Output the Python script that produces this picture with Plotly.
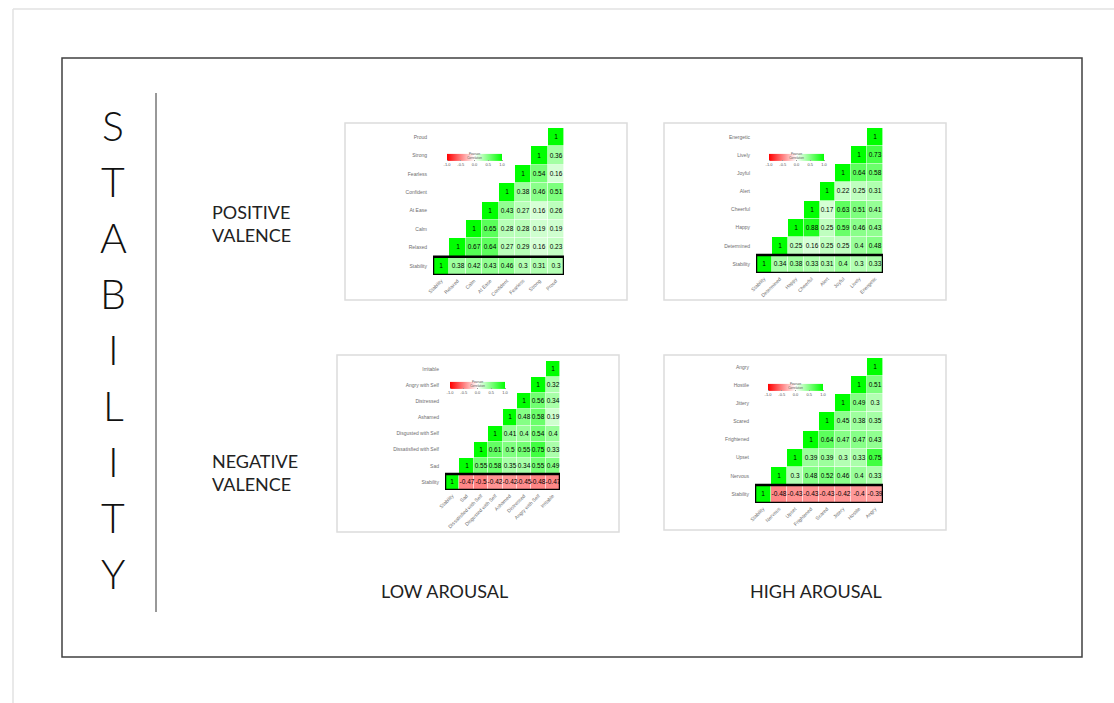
import plotly.graph_objects as go

# ---------------- data ----------------
labels_pos_low = ["Stability", "Relaxed", "Calm", "At Ease", "Confident", "Fearless", "Strong", "Proud"]
rows_pos_low = [
    [1, 0.38, 0.42, 0.43, 0.46, 0.3, 0.31, 0.3],
    [1, 0.67, 0.64, 0.27, 0.29, 0.16, 0.23],
    [1, 0.65, 0.28, 0.28, 0.19, 0.19],
    [1, 0.43, 0.27, 0.16, 0.26],
    [1, 0.38, 0.46, 0.51],
    [1, 0.54, 0.16],
    [1, 0.36],
    [1],
]

labels_pos_high = ["Stability", "Determined", "Happy", "Cheerful", "Alert", "Joyful", "Lively", "Energetic"]
rows_pos_high = [
    [1, 0.34, 0.38, 0.33, 0.31, 0.4, 0.3, 0.33],
    [1, 0.25, 0.16, 0.25, 0.25, 0.4, 0.48],
    [1, 0.88, 0.25, 0.59, 0.46, 0.43],
    [1, 0.17, 0.63, 0.51, 0.41],
    [1, 0.22, 0.25, 0.31],
    [1, 0.64, 0.58],
    [1, 0.73],
    [1],
]

labels_neg_low = ["Stability", "Sad", "Dissatisfied with Self", "Disgusted with Self", "Ashamed",
                  "Distressed", "Angry with Self", "Irritable"]
rows_neg_low = [
    [1, -0.47, -0.5, -0.42, -0.42, -0.45, -0.48, -0.47],
    [1, 0.55, 0.58, 0.35, 0.34, 0.55, 0.49],
    [1, 0.61, 0.5, 0.55, 0.75, 0.33],
    [1, 0.41, 0.4, 0.54, 0.4],
    [1, 0.48, 0.58, 0.19],
    [1, 0.56, 0.34],
    [1, 0.32],
    [1],
]

labels_neg_high = ["Stability", "Nervous", "Upset", "Frightened", "Scared", "Jittery", "Hostile", "Angry"]
rows_neg_high = [
    [1, -0.48, -0.43, -0.43, -0.43, -0.42, -0.4, -0.39],
    [1, 0.3, 0.48, 0.52, 0.46, 0.4, 0.33],
    [1, 0.39, 0.39, 0.3, 0.33, 0.75],
    [1, 0.64, 0.47, 0.47, 0.43],
    [1, 0.45, 0.38, 0.35],
    [1, 0.49, 0.3],
    [1, 0.51],
    [1],
]

colorbar_ticks = [-1.0, -0.5, 0.0, 0.5, 1.0]
colorbar_ticktext = ["-1.0", "-0.5", "0.0", "0.5", "1.0"]
stability_letters = "STABILITY"
valence_labels = ["POSITIVE<br>VALENCE", "NEGATIVE<br>VALENCE"]
arousal_labels = ["LOW AROUSAL", "HIGH AROUSAL"]

# ---------------- layout helpers ----------------
W, H = 1114, 703


def px(x):
    return x / W


def py(y):
    return 1 - y / H


panels = [
    # labels, rows, grid box (x0,x1,y0,y1 px), outer box, colorbar (left, top)
    (labels_pos_low, rows_pos_low, (433, 564, 128, 275), (345, 627, 123, 300), (447, 146)),
    (labels_pos_high, rows_pos_high, (756, 883, 128, 273), (664, 946, 123, 300), (769, 146)),
    (labels_neg_low, rows_neg_low, (445, 560, 361, 490), (337, 619, 355, 532), (450, 374)),
    (labels_neg_high, rows_neg_high, (755, 883, 358, 503), (664, 946, 355, 530), (768, 376)),
]

colorscale = [[0, "#FF0000"], [0.5, "#FFFFFF"], [1, "#00FF00"]]
tick_font = dict(family="Liberation Sans, Arial, sans-serif", size=5, color="#6e6e6e")

fig = go.Figure()
shapes = []
annotations = []

for k, (labels, rows, grid, box, cb) in enumerate(panels, start=1):
    n = len(labels)
    z = [[None] * n for _ in range(n)]
    txt = [[""] * n for _ in range(n)]
    for r, row in enumerate(rows):
        for j, v in enumerate(row):
            c = r + j
            z[r][c] = v
            txt[r][c] = f"{v:g}"
    sfx = "" if k == 1 else str(k)
    fig.add_trace(go.Heatmap(
        z=z, x=list(range(n)), y=list(range(n)),
        text=txt, texttemplate="%{text}",
        textfont=dict(family="Liberation Sans, Arial, sans-serif", size=6.5, color="#000000"),
        colorscale=colorscale, zmin=-1, zmax=1, xgap=0.6, ygap=0.6,
        xaxis="x" + sfx, yaxis="y" + sfx, hoverongaps=False,
        colorbar=dict(
            orientation="h", x=px(cb[0]), xanchor="left", y=py(cb[1]), yanchor="top",
            len=55, lenmode="pixels", thickness=7, thicknessmode="pixels",
            xpad=0, ypad=0, outlinewidth=0,
            tickvals=colorbar_ticks, ticktext=colorbar_ticktext,
            ticks="outside", ticklen=1, tickcolor="#999999",
            tickfont=dict(family="Liberation Sans, Arial, sans-serif", size=4, color="#555555"),
            title=dict(text="Pearson<br>Correlation", side="top",
                       font=dict(family="Liberation Sans, Arial, sans-serif", size=3, color="#555555")),
        ),
    ))
    x0, x1, y0, y1 = grid
    fig.layout["xaxis" + sfx] = dict(
        domain=[px(x0), px(x1)], anchor="y" + sfx, range=[-0.5, n - 0.5],
        tickvals=list(range(n)), ticktext=labels, tickangle=-45, tickfont=tick_font,
        showgrid=False, zeroline=False, showline=False, ticks="", ticklabelstandoff=1,
    )
    fig.layout["yaxis" + sfx] = dict(
        domain=[py(y1), py(y0)], anchor="x" + sfx, range=[-0.5, n - 0.5],
        tickvals=list(range(n)), ticktext=labels, tickfont=tick_font,
        showgrid=False, zeroline=False, showline=False, ticks="", ticklabelstandoff=5,
    )
    bx0, bx1, by0, by1 = box
    shapes.append(dict(type="rect", xref="paper", yref="paper", x0=px(bx0), x1=px(bx1),
                       y0=py(by1), y1=py(by0), line=dict(color="#dcdcdc", width=1.5),
                       layer="below"))
    xr = "x" + sfx
    yr = "y" + sfx
    shapes.append(dict(type="rect", xref=xr, yref=yr, x0=-0.5, x1=n - 0.5, y0=-0.5, y1=0.5,
                       line=dict(color="#000000", width=2.5)))

# outer page border (light grey, top and left)
shapes.append(dict(type="line", xref="paper", yref="paper", x0=px(13), x1=1, y0=py(9), y1=py(9),
                   line=dict(color="#e2e2e2", width=1.5)))
shapes.append(dict(type="line", xref="paper", yref="paper", x0=px(13), x1=px(13), y0=py(9), y1=0,
                   line=dict(color="#e2e2e2", width=1.5)))
# black frame
shapes.append(dict(type="rect", xref="paper", yref="paper", x0=px(62), x1=px(1082), y0=py(657), y1=py(58),
                   line=dict(color="#404040", width=1.5)))
# vertical separator
shapes.append(dict(type="line", xref="paper", yref="paper", x0=px(156), x1=px(156), y0=py(612), y1=py(93),
                   line=dict(color="#333333", width=1)))

big_font = dict(family="Lato, Open Sans, sans-serif", size=41, color="#111111", weight=300)
for i, ch in enumerate(stability_letters):
    annotations.append(dict(text=ch, x=px(113), y=py(125 + i * 56.1), xref="paper", yref="paper",
                            showarrow=False, xanchor="center", yanchor="middle", font=big_font))

lab_font = dict(family="Lato, Open Sans, sans-serif", size=18, color="#222222")
for lbl, yc in zip(valence_labels, [223, 472]):
    annotations.append(dict(text=lbl, x=px(210), y=py(yc), xref="paper", yref="paper", align="left",
                            showarrow=False, xanchor="left", yanchor="middle", font=lab_font))
for lbl, xc in zip(arousal_labels, [444, 816]):
    annotations.append(dict(text=lbl, x=px(xc), y=py(591), xref="paper", yref="paper",
                            showarrow=False, xanchor="center", yanchor="middle", font=lab_font))

fig.update_layout(
    width=W, height=H, margin=dict(l=0, r=0, t=0, b=0, pad=0, autoexpand=False),
    paper_bgcolor="#ffffff", plot_bgcolor="#ffffff",
    shapes=shapes, annotations=annotations, showlegend=False,
)

fig.write_html("out.html", config={"displayModeBar": False},
               post_script="document.body.style.margin='0';")
